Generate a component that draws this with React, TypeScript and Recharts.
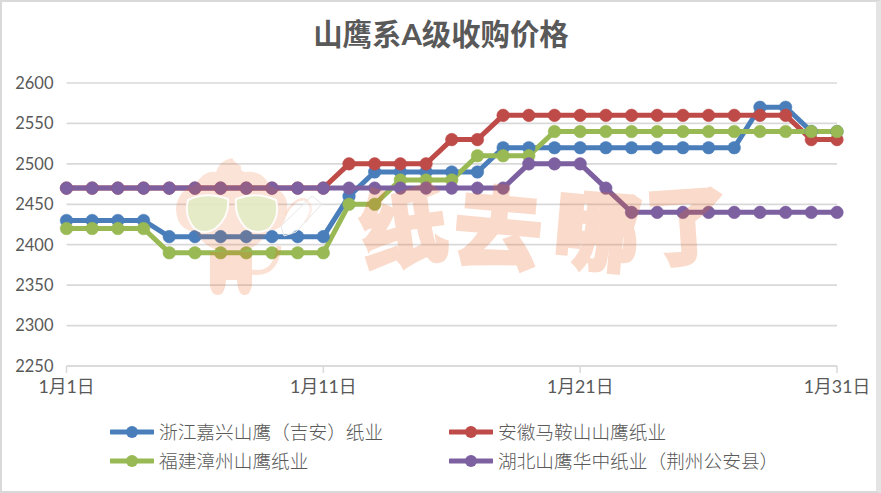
import React from 'react';
import { LineChart, Line, XAxis, YAxis, CartesianGrid, Legend } from 'recharts';

const days = ['1月1日','1月2日','1月3日','1月4日','1月5日','1月6日','1月7日','1月8日','1月9日','1月10日','1月11日','1月12日','1月13日','1月14日','1月15日','1月16日','1月17日','1月18日','1月19日','1月20日','1月21日','1月22日','1月23日','1月24日','1月25日','1月26日','1月27日','1月28日','1月29日','1月30日','1月31日'];
const zhejiang = [2430,2430,2430,2430,2410,2410,2410,2410,2410,2410,2410,2460,2490,2490,2490,2490,2490,2520,2520,2520,2520,2520,2520,2520,2520,2520,2520,2570,2570,2540,2540];
const anhui = [2470,2470,2470,2470,2470,2470,2470,2470,2470,2470,2470,2500,2500,2500,2500,2530,2530,2560,2560,2560,2560,2560,2560,2560,2560,2560,2560,2560,2560,2530,2530];
const fujian = [2420,2420,2420,2420,2390,2390,2390,2390,2390,2390,2390,2450,2450,2480,2480,2480,2510,2510,2510,2540,2540,2540,2540,2540,2540,2540,2540,2540,2540,2540,2540];
const hubei = [2470,2470,2470,2470,2470,2470,2470,2470,2470,2470,2470,2470,2470,2470,2470,2470,2470,2470,2500,2500,2500,2470,2440,2440,2440,2440,2440,2440,2440,2440,2440];
const yTicks = [2250,2300,2350,2400,2450,2500,2550,2600];
const xTicks = ['1月1日','1月11日','1月21日','1月31日'];
const names = ['浙江嘉兴山鹰（吉安）纸业','安徽马鞍山山鹰纸业','福建漳州山鹰纸业','湖北山鹰华中纸业（荆州公安县）'];
const colors = ['#4a7ebb','#be4b48','#98b954','#7d60a0'];
const title = '山鹰系A级收购价格';
const watermarkChars = ['纸','去','哪','了'];

const rows = days.map((d, i) => ({ day: d, a: zhejiang[i], b: anhui[i], c: fujian[i], d2: hubei[i] }));
const keys = ['a','b','c','d2'];
const FONT = 'Lato, "Noto Sans CJK SC", sans-serif';
const GREY = '#595959';

const LegendBody = () => (
  <div style={{ position: 'relative', width: 881, height: 87 }}>
    {names.map((name, i) => {
      const left = i % 2 === 0 ? 110 : 449;
      const top = i < 2 ? 26 : 55;
      return (
        <div key={i} style={{ position: 'absolute', left, top: top - 14, height: 28, display: 'flex', alignItems: 'center', whiteSpace: 'nowrap' }}>
          <svg width={44} height={16} style={{ marginRight: 5 }}>
            <line x1={1} x2={43} y1={8} y2={8} stroke={colors[i]} strokeWidth={5} strokeLinecap="round" />
            <circle cx={22} cy={8} r={6} fill={colors[i]} />
          </svg>
          <span style={{ fontFamily: FONT, fontSize: 18.7, fontWeight: 300, color: GREY, lineHeight: '28px' }}>{name}</span>
        </div>
      );
    })}
  </div>
);

const Watermark = () => {
  const txt = { fontFamily: '"Noto Sans CJK SC", sans-serif', fontWeight: 900, fill: '#eb6723', stroke: '#eb6723', strokeWidth: 3, textAnchor: 'middle' as const };
  return (
    <svg width={881} height={493} style={{ position: 'absolute', left: 0, top: 0, pointerEvents: 'none' }}>
      <g opacity={0.24}>
        <text x={0} y={31} fontSize={86} {...txt} transform="translate(403 228) rotate(-8)">{watermarkChars[0]}</text>
        <text x={0} y={31} fontSize={88} {...txt} transform="translate(498 230) rotate(5)">{watermarkChars[1]}</text>
        <text x={0} y={31} fontSize={86} {...txt} transform="translate(597 232) rotate(5)">{watermarkChars[2]}</text>
        <text x={0} y={31} fontSize={84} {...txt} transform="translate(687 226) rotate(-4)">{watermarkChars[3]}</text>
        {/* monkey */}
        <path d="M196 184 Q204 170 216 172 Q220 160 232 158 Q236 164 241 166 Q240 172 246 172 Q262 170 270 186 Q290 192 287 212 Q284 232 268 230 Q258 252 232 252 Q206 252 196 232 Q176 230 176 208 Q178 190 196 184 Z" fill="#eb6723" opacity={0.75} />
        <path d="M210 252 L252 252 L252 285 Q250 296 244 295 Q238 295 237 280 L226 280 Q225 295 218 295 Q211 295 210 285 Z" fill="#eb6723" opacity={0.9} />
        <path d="M252 272 Q276 276 279 246" fill="none" stroke="#eb6723" strokeWidth={5} opacity={0.8} />
        <path d="M285 215 Q296 196 306 200 Q316 208 305 222" fill="none" stroke="#eb6723" strokeWidth={2.5} opacity={0.7} />
      </g>
      <path d="M188 200 Q206 191 228 199 Q230 216 216 228 Q204 236 194 228 Q184 216 188 200 Z" fill="#e3ebc6" stroke="#fff" strokeWidth={2} opacity={0.9} />
      <path d="M236 199 Q256 191 276 200 Q280 216 270 228 Q258 236 246 228 Q234 216 236 199 Z" fill="#e3ebc6" stroke="#fff" strokeWidth={2} opacity={0.9} />
      <path d="M281 226 L312 196 L322 204 L296 232 L284 236 Z" fill="#fff" fillOpacity={0.35} stroke="#e6e6e6" strokeWidth={1} />
    </svg>
  );
};

export default function App() {
  return (
    <div style={{ position: 'fixed', left: 0, top: 0, width: 881, height: 493, overflow: 'hidden', background: '#fff' }}>
      <LineChart width={881} height={493} data={rows} margin={{ top: 83, right: 44, bottom: 0, left: 0 }}>
        <text x={441} y={45} textAnchor="middle" fontFamily={FONT} fontSize={29.4} fontWeight={700} fill={GREY}>{title}</text>
        <CartesianGrid horizontal vertical={false} stroke="#d9d9d9" strokeWidth={1.7} />
        <XAxis dataKey="day" ticks={xTicks} interval={0} scale="point" padding={{ left: 0, right: 0 }} height={40}
          tickLine={{ stroke: '#d9d9d9', strokeWidth: 1.5 }} tickSize={7} tickMargin={7}
          axisLine={{ stroke: '#d9d9d9', strokeWidth: 1.7 }}
          tick={{ fontFamily: FONT, fontSize: 17.8, fill: GREY }} />
        <YAxis domain={[2250, 2600]} ticks={yTicks} width={66.5} axisLine={false} tickLine={false} tickMargin={7}
          tick={{ fontFamily: FONT, fontSize: 16.5, fill: GREY }} />
        <Legend verticalAlign="bottom" height={87} content={<LegendBody />} />
        {keys.map((k, i) => (
          <Line key={k} dataKey={k} name={names[i]} stroke={colors[i]} strokeWidth={5} isAnimationActive={false}
            dot={{ r: 6.3, fill: colors[i], stroke: colors[i], strokeWidth: 0.5 }} activeDot={false} />
        ))}
      </LineChart>
      <Watermark />
      <div style={{ position: 'absolute', left: 0, top: 0, width: 881, height: 493, boxSizing: 'border-box', borderTop: '2px solid #d9d9d9', borderLeft: '2px solid #d9d9d9', borderRight: '5px solid #e4e4e4', borderBottom: '2px solid #d9d9d9', pointerEvents: 'none' }} />
    </div>
  );
}
